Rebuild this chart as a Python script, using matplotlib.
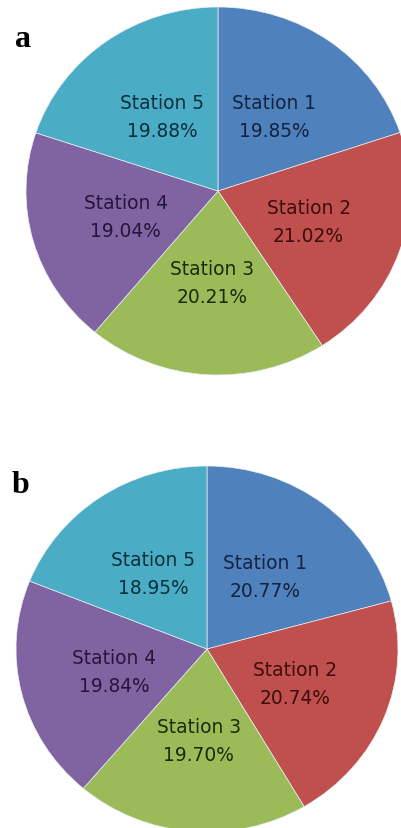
import matplotlib
matplotlib.use("Agg")
import matplotlib.pyplot as plt

stations = ["Station 1", "Station 2", "Station 3", "Station 4", "Station 5"]
values_a = [19.85, 21.02, 20.21, 19.04, 19.88]
values_b = [20.77, 20.74, 19.70, 19.84, 18.95]
panel_labels = ["a", "b"]

colors = ["#4F81BD", "#C0504D", "#9BBB59", "#8064A2", "#4BACC6"]
text_colors = ["#16223f", "#3d0c0c", "#1c2a0c", "#24163a", "#0c2f3a"]

W, H = 401, 829
fig = plt.figure(figsize=(W / 100, H / 100), dpi=100)
fig.patch.set_facecolor("white")

# axes boxes in pixel coords: (left, top, width, height)
boxes = [(26, 8, 384, 368), (16, 467, 382, 366)]
letter_pos = [(15, 47), (12, 493)]

for vals, box, letter, lp in zip([values_a, values_b], boxes, panel_labels, letter_pos):
    l, t, w, h = box
    ax = fig.add_axes([l / W, 1 - (t + h) / H, w / W, h / H])
    wedges, texts, autotexts = ax.pie(
        vals, startangle=90, counterclock=False, colors=colors,
        autopct="%.2f%%", pctdistance=0.5,
        wedgeprops=dict(edgecolor="#e8eef5", linewidth=0.5),
        textprops=dict(fontsize=13.4, family="DejaVu Sans"),
    )
    for i, at in enumerate(autotexts):
        at.set_text(f"{stations[i]}\n{vals[i]:.2f}%")
        at.set_linespacing(1.6)
        at.set_color(text_colors[i])
    ax.set_xlim(-1, 1)
    ax.set_ylim(-1, 1)
    ax.set_aspect("auto")
    ax.axis("off")
    fig.text(lp[0] / W, 1 - lp[1] / H, letter, fontsize=23, fontweight="bold",
             family="Liberation Serif", ha="left", va="baseline")

fig.savefig("out.png", dpi=100)
